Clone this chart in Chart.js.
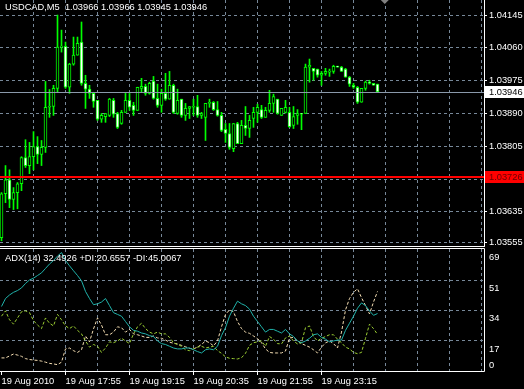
<!DOCTYPE html>
<html>
<head>
<meta charset="utf-8">
<title>USDCAD,M5</title>
<script src="https://cdn.jsdelivr.net/npm/chart.js@4.4.1/dist/chart.umd.min.js"></script>
<style>
  html, body { margin: 0; padding: 0; background: #000; }
  #wrap { position: relative; width: 524px; height: 389px; overflow: hidden; background: #000; }
  #price-box { position: absolute; left: 0; top: 0; width: 524px; height: 247px; }
  #adx-box { position: absolute; left: 0; top: 247px; width: 524px; height: 142px; }
</style>
</head>
<body>
<div id="wrap">
  <div id="price-box"><canvas id="price-chart"></canvas></div>
  <div id="adx-box"><canvas id="adx-chart"></canvas></div>
</div>
<script>
// Price pane data (USDCAD M5, one entry per bar)
const symbolName = 'USDCAD,M5';

const opens = [
  1.03568,1.03682,1.03718,1.03667,1.03685,1.03708,1.03776,1.03755,1.03778,1.03804,
  1.03784,1.03802,1.03906,1.03908,1.03955,1.04062,1.04064,1.03958,1.04018,1.04041,
  1.04075,1.03968,1.03953,1.03942,1.03924,1.03875,1.03882,1.03885,1.03924,1.03890,
  1.03864,1.03893,1.03924,1.03911,1.03898,1.03955,1.03960,1.03942,1.03974,1.03929,
  1.03911,1.03942,1.03927,1.03963,1.03890,1.03927,1.03885,1.03903,1.03906,1.03908,
  1.03885,1.03880,1.03916,1.03919,1.03900,1.03885,1.03849,1.03838,1.03799,1.03864,
  1.03812,1.03859,1.03851,1.03877,1.03893,1.03900,1.03880,1.03898,1.03916,1.03927,
  1.03885,1.03893,1.03893,1.03859,1.03885,1.03890,1.03890,1.04010,1.04007,1.04005,
  1.03989,1.03994,1.03997,1.03999,1.04012,1.04010,1.04005,1.03984,1.03963,1.03958,
  1.03919,1.03955,1.03971,1.03968,1.03966
];
const highs = [
  1.03685,1.03755,1.03744,1.03698,1.03711,1.03778,1.03822,1.03815,1.03843,1.03830,
  1.03820,1.03973,1.03952,1.03963,1.04145,1.04106,1.04075,1.04020,1.04088,1.04088,
  1.04127,1.03989,1.03963,1.03945,1.03924,1.03890,1.03890,1.03929,1.03929,1.03893,
  1.03898,1.03942,1.03942,1.03919,1.03958,1.03981,1.03966,1.03971,1.03986,1.03966,
  1.03953,1.03994,1.03999,1.03966,1.03953,1.03927,1.03916,1.03908,1.03927,1.03937,
  1.03893,1.03916,1.03927,1.03921,1.03921,1.03893,1.03864,1.03864,1.03864,1.03867,
  1.03872,1.03908,1.03885,1.03906,1.03914,1.03911,1.03906,1.03950,1.03940,1.03927,
  1.03903,1.03924,1.03906,1.03908,1.03900,1.03890,1.04018,1.04031,1.04007,1.04005,
  1.03999,1.04007,1.04005,1.04015,1.04012,1.04012,1.04007,1.03986,1.03968,1.03960,
  1.03955,1.03974,1.03976,1.03968,1.03966
];
const lows = [
  1.03560,1.03659,1.03646,1.03641,1.03643,1.03690,1.03750,1.03734,1.03744,1.03760,
  1.03755,1.03789,1.03880,1.03885,1.03945,1.04049,1.03955,1.03942,1.04015,1.04041,
  1.03963,1.03903,1.03929,1.03906,1.03872,1.03867,1.03867,1.03882,1.03880,1.03851,
  1.03862,1.03893,1.03898,1.03885,1.03898,1.03945,1.03937,1.03940,1.03927,1.03906,
  1.03893,1.03924,1.03927,1.03890,1.03888,1.03880,1.03872,1.03877,1.03885,1.03880,
  1.03877,1.03820,1.03906,1.03898,1.03883,1.03843,1.03815,1.03797,1.03791,1.03812,
  1.03812,1.03833,1.03828,1.03854,1.03867,1.03877,1.03880,1.03893,1.03893,1.03888,
  1.03885,1.03891,1.03854,1.03851,1.03862,1.03848,1.03890,1.03971,1.03976,1.03984,
  1.03963,1.03989,1.03986,1.03994,1.04010,1.03999,1.03984,1.03960,1.03955,1.03916,
  1.03919,1.03950,1.03966,1.03963,1.03945
];
const closes = [
  1.03682,1.03718,1.03667,1.03685,1.03708,1.03776,1.03755,1.03778,1.03804,1.03784,
  1.03802,1.03906,1.03908,1.03955,1.04062,1.04064,1.03958,1.04018,1.04041,1.04072,
  1.03968,1.03953,1.03942,1.03921,1.03875,1.03885,1.03890,1.03927,1.03888,1.03854,
  1.03893,1.03924,1.03906,1.03898,1.03958,1.03960,1.03942,1.03968,1.03929,1.03911,
  1.03942,1.03927,1.03963,1.03893,1.03924,1.03885,1.03903,1.03908,1.03908,1.03885,
  1.03890,1.03916,1.03919,1.03900,1.03885,1.03846,1.03838,1.03802,1.03864,1.03812,
  1.03859,1.03851,1.03872,1.03893,1.03906,1.03880,1.03898,1.03916,1.03934,1.03890,
  1.03903,1.03906,1.03856,1.03882,1.03890,1.03888,1.04010,1.04015,1.03999,1.03989,
  1.03994,1.03999,1.03999,1.04012,1.04010,1.03999,1.03984,1.03966,1.03958,1.03919,
  1.03955,1.03971,1.03968,1.03963,1.03946
];

// Horizontal line object and price scale
const redLevel = 1.03726;
const priceTicks = [1.04145, 1.04060, 1.03975, 1.03890, 1.03805, 1.03720, 1.03635, 1.03555];
const priceMin = 1.03544;
const priceMax = 1.04184;

// Time axis (bar index of each labelled tick)
const gridBars = [0, 8, 16, 24, 32, 40, 48, 56, 64, 72, 80, 88, 96, 104, 112, 120];
const timeTickBars = [0, 16, 32, 48, 64, 80];
const timeLabels = ['19 Aug 2010', '19 Aug 17:55', '19 Aug 19:15', '19 Aug 20:35', '19 Aug 21:55', '19 Aug 23:15'];
const xMin = -0.375;
const xMax = 120.625;

// ADX(14) pane
const adxMain = [
  36.5,41,43,44.5,45.5,47,49.5,51.5,52.5,54,
  55.5,58,60.5,62.5,65,67,62.5,59.5,56.7,54,
  51,45,41,37.5,38,39,41,37,33,32,
  31,28,25,23,22.5,21.5,21,20,19.5,17,
  15.5,15,14,13,12.5,12.5,13,13,12,11,
  10.2,12,12.5,12,14,20,24.5,31,35.5,39.5,
  38,37,35,31,28,25,22,23.5,23.5,22.5,
  21.5,23.5,21,19.5,17,16,17,18.5,20.5,21,
  19,18,16.5,17,17.5,17.5,23,27,31,35.5,
  38.5,37,34,31.5,32.5
];
const plusDI = [
  31,34,29,26.5,30,33.5,34,33,28.5,26,
  24,30,27,25.5,32,29,25.5,24,25.5,23,
  21,17,13.5,15,14,10.5,13,16.5,16,17,
  18.5,17,15.5,21,25,27,24,22,21,22,
  21,21,19,16,15,14,12,11.5,12.5,13.5,
  14,13,13.5,14,11.5,10,8,7.2,7,6.8,
  7.5,10,14.5,16,16.5,17,14,19.5,18,15.5,
  15.3,18.7,19.8,17,15.3,16,24.5,25.5,19.5,17,
  18.5,19.5,20.5,20.5,18,16,13.5,12.5,10.5,9.8,
  10.5,18.5,26.5,24,20.7
];
const minusDI = [
  7.4,7.4,8.5,9.6,9,8.3,7,6.5,6.2,6,
  5.6,5,4.3,4,3.6,5,12.5,13,11.5,10.5,
  12,19.8,16.5,23.8,30,26,20.5,20.5,22,25,
  24.5,22,23.5,21,20.5,19.8,19,19,19.8,18.7,
  18.5,17.5,16.3,15.7,15.3,14.5,13.7,12.8,12.5,13.5,
  15,17,16,14.2,17,25,32,34.5,33.5,28,
  24,22,21.3,19.8,18.3,16,12.5,10.5,10.2,10.2,
  10.2,11.3,18.7,19,17,15.5,14.5,13.5,12,10.2,
  13.5,15.9,17,15.5,13,22,34.5,41,44.5,46.5,
  41.5,37,32.3,39,45
];
const adxReadout = [32.4926, 20.6557, 45.0067];
const adxTicks = [0, 17, 34, 51, 69];

// Styling
const fontFamily = "'Liberation Sans', Arial, sans-serif";
const fontSize = 9.3;
const gridColor = '#778899';
const candleColor = '#00ff00';
Chart.defaults.font.family = fontFamily;
Chart.defaults.font.size = fontSize;

const lastBar = closes.length - 1;

function textAt(ctx, text, x, y, color) {
    ctx.save();
    ctx.font = `${fontSize}px ${fontFamily}`;
    ctx.fillStyle = color;
    ctx.textAlign = 'left';
    ctx.textBaseline = 'middle';
    ctx.fillText(text, x, y);
    ctx.restore();
}

function hLine(ctx, x1, x2, y, color, width) {
    ctx.save();
    ctx.strokeStyle = color;
    ctx.lineWidth = width;
    ctx.beginPath();
    ctx.moveTo(x1, y);
    ctx.lineTo(x2, y);
    ctx.stroke();
    ctx.restore();
}

function vLine(ctx, x, y1, y2, color) {
    ctx.save();
    ctx.strokeStyle = color;
    ctx.lineWidth = 1;
    ctx.beginPath();
    ctx.moveTo(x, y1);
    ctx.lineTo(x, y2);
    ctx.stroke();
    ctx.restore();
}

// Frame, bid line, level line and title for the price pane
const priceDecor = {
    id: 'priceDecor',
    afterDraw(chart) {
        const ctx = chart.ctx;
        const area = chart.chartArea;
        const y = chart.scales.y;
        const right = Math.round(area.right) + 0.5;

        const bidY = Math.round(y.getPixelForValue(closes[lastBar])) + 0.5;
        hLine(ctx, area.left, area.right, bidY, '#8a99aa', 1);
        const redY = Math.round(y.getPixelForValue(redLevel));
        hLine(ctx, area.left, area.right, redY, '#ff0000', 2);

        vLine(ctx, right, 0, area.bottom, '#ffffff');
        hLine(ctx, 0, right, area.bottom - 0.5, '#ffffff', 1);

        // price tags on the right scale
        ctx.fillStyle = '#ffffff';
        ctx.fillRect(right + 0.5, bidY - 6.5, 40, 12);
        textAt(ctx, closes[lastBar].toFixed(5), right + 4.5, bidY, '#000000');
        ctx.fillStyle = '#ff0000';
        ctx.fillRect(right + 0.5, redY - 6, 40, 12);
        textAt(ctx, redLevel.toFixed(5), right + 4.5, redY, '#6a0000');

        // chart shift marker
        const sx = area.left + (area.right - area.left) * 0.795;
        ctx.save();
        ctx.fillStyle = '#808080';
        ctx.beginPath();
        ctx.moveTo(sx - 4, 0);
        ctx.lineTo(sx + 4, 0);
        ctx.lineTo(sx, 4);
        ctx.closePath();
        ctx.fill();
        ctx.restore();

        const title = `${symbolName}  ${opens[lastBar].toFixed(5)} ${highs[lastBar].toFixed(5)} ` +
            `${lows[lastBar].toFixed(5)} ${closes[lastBar].toFixed(5)}`;
        textAt(ctx, title, 5, 7, '#ffffff');
    }
};

// Frame, scale labels and title for the ADX pane
const adxDecor = {
    id: 'adxDecor',
    afterDraw(chart) {
        const ctx = chart.ctx;
        const area = chart.chartArea;
        const y = chart.scales.y;
        const right = Math.round(area.right) + 0.5;

        hLine(ctx, 0, right, area.top - 0.5, '#ffffff', 1);
        hLine(ctx, 0, right, area.bottom + 0.5, '#ffffff', 1);
        vLine(ctx, right, area.top - 0.5, area.bottom + 0.5, '#ffffff');

        adxTicks.forEach(v => {
            const py = y.getPixelForValue(v) + (v === 0 ? -6 : 8);
            textAt(ctx, String(v), right + 4.5, py, '#ffffff');
        });

        const title = `ADX(14) ${adxReadout[0]} +DI:${adxReadout[1]} -DI:${adxReadout[2]}`;
        textAt(ctx, title, 5, 11, '#ffffff');
    }
};

const priceChart = new Chart(document.getElementById('price-chart'), {
    type: 'bar',
    data: {
        datasets: [
            {
                label: 'body',
                data: opens.map((o, i) => ({ x: i, y: [o, closes[i]] })),
                backgroundColor: opens.map((o, i) => closes[i] < o ? '#ffffff' : '#000000'),
                borderColor: candleColor,
                borderWidth: 1,
                borderSkipped: false,
                barThickness: 3,
                minBarLength: 1,
                grouped: false,
                order: 0
            },
            {
                label: 'wick',
                data: highs.map((h, i) => ({ x: i, y: [lows[i], h] })),
                backgroundColor: candleColor,
                borderWidth: 0,
                barThickness: 1,
                minBarLength: 1,
                grouped: false,
                order: 1
            }
        ]
    },
    options: {
        responsive: true,
        maintainAspectRatio: false,
        animation: false,
        layout: { padding: 0 },
        plugins: { legend: { display: false }, tooltip: { enabled: false } },
        scales: {
            x: {
                type: 'linear',
                min: xMin,
                max: xMax,
                offset: false,
                grid: {
                    color: c => (c.tick && c.tick.value === 0) ? 'transparent' : gridColor,
                    offset: false,
                    drawTicks: false
                },
                border: { display: false, dash: [3, 3] },
                ticks: { display: false },
                afterBuildTicks: s => { s.ticks = gridBars.map(v => ({ value: v })); },
                afterFit: s => { s.height = 0; s.paddingLeft = 0; s.paddingRight = 0; }
            },
            y: {
                position: 'right',
                min: priceMin,
                max: priceMax,
                grid: { color: gridColor, drawTicks: true, tickLength: 3, tickColor: '#ffffff' },
                border: { display: false, dash: [3, 3] },
                ticks: {
                    color: '#ffffff',
                    padding: 2,
                    autoSkip: false,
                    callback: v => Number(v).toFixed(5)
                },
                afterBuildTicks: s => { s.ticks = priceTicks.map(v => ({ value: v })); },
                afterFit: s => { s.width = 40; s.paddingTop = 0; s.paddingBottom = 0; }
            }
        }
    },
    plugins: [priceDecor]
});

const adxChart = new Chart(document.getElementById('adx-chart'), {
    type: 'line',
    data: {
        datasets: [
            {
                label: 'ADX',
                data: adxMain.map((v, i) => ({ x: i, y: v })),
                borderColor: '#20b2aa',
                borderWidth: 1,
                pointRadius: 0,
                tension: 0
            },
            {
                label: '+DI',
                data: plusDI.map((v, i) => ({ x: i, y: v })),
                borderColor: '#9acd32',
                borderWidth: 1,
                borderDash: [3, 2],
                pointRadius: 0,
                tension: 0
            },
            {
                label: '-DI',
                data: minusDI.map((v, i) => ({ x: i, y: v })),
                borderColor: '#f5deb3',
                borderWidth: 1,
                borderDash: [3, 2],
                pointRadius: 0,
                tension: 0
            }
        ]
    },
    options: {
        responsive: true,
        maintainAspectRatio: false,
        animation: false,
        layout: { padding: { top: 2, left: 0, right: 0, bottom: 0 } },
        plugins: { legend: { display: false }, tooltip: { enabled: false } },
        scales: {
            x: {
                type: 'linear',
                min: xMin,
                max: xMax,
                offset: false,
                grid: {
                    color: c => (c.tick && c.tick.value === 0) ? 'transparent' : gridColor,
                    offset: false,
                    drawTicks: true,
                    tickLength: 4,
                    tickColor: c => (c.tick && timeTickBars.includes(c.tick.value)) ? '#ffffff' : 'transparent'
                },
                border: { display: false, dash: [3, 3] },
                ticks: {
                    color: '#ffffff',
                    autoSkip: false,
                    maxRotation: 0,
                    minRotation: 0,
                    align: 'start',
                    padding: 1,
                    callback: v => {
                        const k = timeTickBars.indexOf(v);
                        return k >= 0 ? timeLabels[k] : '';
                    }
                },
                afterBuildTicks: s => { s.ticks = gridBars.map(v => ({ value: v })); },
                afterFit: s => { s.height = 18; s.paddingLeft = 0; s.paddingRight = 0; }
            },
            y: {
                position: 'right',
                min: 0,
                max: 69,
                grid: {
                    color: c => (c.tick && (c.tick.value === 0 || c.tick.value === 69)) ? 'transparent' : gridColor,
                    drawTicks: false
                },
                border: { display: false, dash: [3, 3] },
                ticks: { display: false },
                afterBuildTicks: s => { s.ticks = adxTicks.map(v => ({ value: v })); },
                afterFit: s => { s.width = 40; s.paddingTop = 0; s.paddingBottom = 0; }
            }
        }
    },
    plugins: [adxDecor]
});
</script>
</body>
</html>
